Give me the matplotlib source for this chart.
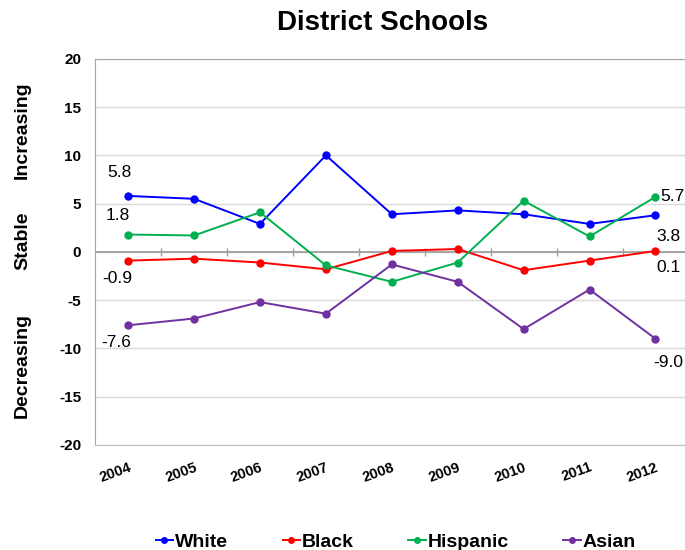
import matplotlib
matplotlib.use("Agg")
import matplotlib.pyplot as plt
import numpy as np

plt.rcParams['font.family'] = ['Liberation Sans', 'DejaVu Sans']

years = ["2004", "2005", "2006", "2007", "2008", "2009", "2010", "2011", "2012"]
white = [5.8, 5.5, 2.9, 10.0, 3.9, 4.3, 3.9, 2.9, 3.8]
black = [-0.9, -0.7, -1.1, -1.8, 0.1, 0.3, -1.9, -0.9, 0.1]
hispanic = [1.8, 1.7, 4.1, -1.4, -3.1, -1.1, 5.3, 1.6, 5.7]
asian = [-7.6, -6.9, -5.2, -6.4, -1.3, -3.1, -8.0, -3.9, -9.0]

series_names = ["White", "Black", "Hispanic", "Asian"]
series_values = [white, black, hispanic, asian]
colors = ["#0000ff", "#ff0000", "#00b050", "#7030a0"]
yticks = [-20, -15, -10, -5, 0, 5, 10, 15, 20]

fig = plt.figure(figsize=(6.85, 5.5), dpi=100)
ax = fig.add_axes([0.139, 0.191, 0.866, 0.702])

x = np.arange(len(years))
for name, vals, c in zip(series_names, series_values, colors):
    ax.plot(x, vals, color=c, lw=1.4, marker='o', ms=5, label=name, zorder=3)

ax.set_xlim(-0.5, len(years) - 0.5)
ax.set_ylim(-20, 20)
ax.set_yticks(yticks)
ax.set_yticklabels([str(t) for t in yticks], fontweight='bold', fontsize=11)
ax.grid(axis='y', color='#d9d9d9', lw=1)
ax.set_axisbelow(True)
ax.axhline(0, color='#a0a0a0', lw=1.3, zorder=2)
ax.vlines(x[:-1] + 0.5, -0.45, 0.45, color='#a0a0a0', lw=1, zorder=2)

ax.set_xticks(x)
ax.set_xticklabels(years, rotation=20, ha='right', rotation_mode='anchor',
                   fontweight='bold', fontsize=10.5)
ax.tick_params(axis='x', length=0, pad=11)
ax.tick_params(axis='y', length=0, pad=10)

ax.spines['right'].set_visible(False)
ax.spines['left'].set_color('#a6a6a6')
ax.spines['top'].set_color('#a6a6a6')
ax.spines['bottom'].set_color('#c0c0c0')

# end labels (offsets in pixels), order: White, Black, Hispanic, Asian
first_offsets = [(-9, 23), (-11, -18), (-10, 19), (-12, -17)]
last_offsets = [(13, -21), (13, -17), (17, 0), (13, -24)]
for vals, off0, off1 in zip(series_values, first_offsets, last_offsets):
    ax.annotate(f"{vals[0]:.1f}", (x[0], vals[0]), xytext=off0, textcoords='offset pixels',
                fontsize=12.5, ha='center', va='center')
    ax.annotate(f"{vals[-1]:.1f}", (x[-1], vals[-1]), xytext=off1, textcoords='offset pixels',
                fontsize=12.5, ha='center', va='center')

fig.text(0.558, 0.958, "District Schools", ha='center', va='center', fontsize=20, fontweight='bold')
fig.text(0.033, 0.764, "Increasing", rotation=90, ha='center', va='center', fontsize=14, fontweight='bold')
fig.text(0.033, 0.563, "Stable", rotation=90, ha='center', va='center', fontsize=14, fontweight='bold')
fig.text(0.033, 0.335, "Decreasing", rotation=90, ha='center', va='center', fontsize=14, fontweight='bold')

leg = fig.legend(loc='center', bbox_to_anchor=(0.578, 0.015), ncol=4, frameon=False,
                 prop={'weight': 'bold', 'size': 14}, handlelength=0.9, handletextpad=0.1,
                 columnspacing=2.8, markerscale=0.8)

fig.savefig("out.png", dpi=100)
